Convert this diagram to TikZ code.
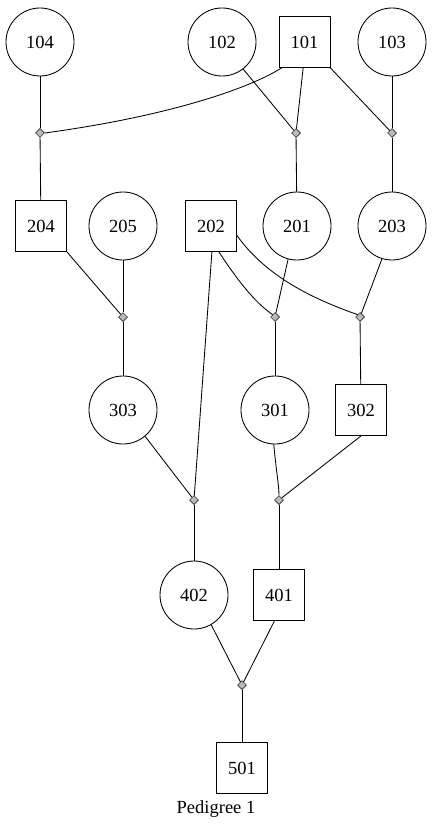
\documentclass[tikz,border=0pt]{standalone}
\usepackage{fontspec}
\setmainfont{Liberation Serif}
\usetikzlibrary{shapes.geometric}
\begin{document}
\begin{tikzpicture}[x=1pt,y=-1pt,line width=0.85pt,
  fem/.style={draw,circle,minimum size=68pt,inner sep=0pt,font=\fontsize{18.5}{22}\selectfont},
  mal/.style={draw,rectangle,minimum size=51pt,inner sep=0pt,font=\fontsize{18.5}{22}\selectfont},
  junc/.style={draw,diamond,fill=gray!55,minimum size=9pt,inner sep=0pt,line width=0.5pt}]
\useasboundingbox (0,0) rectangle (435,829);
% row 1
\node[fem] (p104) at (40,42) {104};
\node[fem] (p102) at (222,42) {102};
\node[mal] (p101) at (304.5,42) {101};
\node[fem] (p103) at (392,42) {103};
\node[junc] (j1) at (40,133) {};
\node[junc] (j2) at (296,133) {};
\node[junc] (j3) at (392,133) {};
% row 2
\node[mal] (p204) at (41,226) {204};
\node[fem] (p205) at (123,226) {205};
\node[mal] (p202) at (211,226) {202};
\node[fem] (p201) at (297,226) {201};
\node[fem] (p203) at (392,226) {203};
\node[junc] (j4) at (123,317) {};
\node[junc] (j5) at (275,317) {};
\node[junc] (j6) at (360,317) {};
% row 3
\node[fem] (p303) at (123,410) {303};
\node[fem] (p301) at (275,410) {301};
\node[mal] (p302) at (361,410) {302};
\node[junc] (j7) at (194,500) {};
\node[junc] (j8) at (279,500) {};
% row 4
\node[fem] (p402) at (194,595) {402};
\node[mal] (p401) at (279,595) {401};
\node[junc] (j9) at (242,685) {};
\node[mal] (p501) at (242,768) {501};
\node[font=\fontsize{18.5}{22}\selectfont] (cap) at (216,809) {Pedigree 1};
% edges row 1
\draw (p104) -- (j1);
\draw (p101.south west) ++(3,0) coordinate (a1) .. controls (250,88) and (170,116) .. (j1.east);
\draw (p102.-52) -- (j2);
\draw (p101.-93) -- (j2);
\draw (p101.south east) -- (j3);
\draw (p103) -- (j3);
\draw (j1) -- (p204);
\draw (j2) -- (p201);
\draw (j3) -- (p203);
% edges row 2
\draw (p204.-45) -- (j4);
\draw (p205) -- (j4);
\draw (p202.-73) .. controls (236,278) and (254,302) .. (j5.north west);
\draw (p201.-105) -- (j5);
\draw (p202.-20) .. controls (265,275) and (310,298) .. (j6.north west);
\draw (p203.-107) -- (j6);
\draw (j4) -- (p303);
\draw (j5) -- (p301);
\draw (j6) -- (p302);
% edges row 3
\draw (p303.-50) -- (j7);
\draw (p202.-88) -- (j7);
\draw (p301.-92) .. controls (276,470) and (279,485) .. (j8.north);
\draw (p302.south) -- (j8);
\draw (j7) -- (p402);
\draw (j8) -- (p401);
% edges row 4
\draw (p402.-60) -- (j9);
\draw (p401.-100) -- (j9);
\draw (j9) -- (p501);
\end{tikzpicture}
\end{document}
